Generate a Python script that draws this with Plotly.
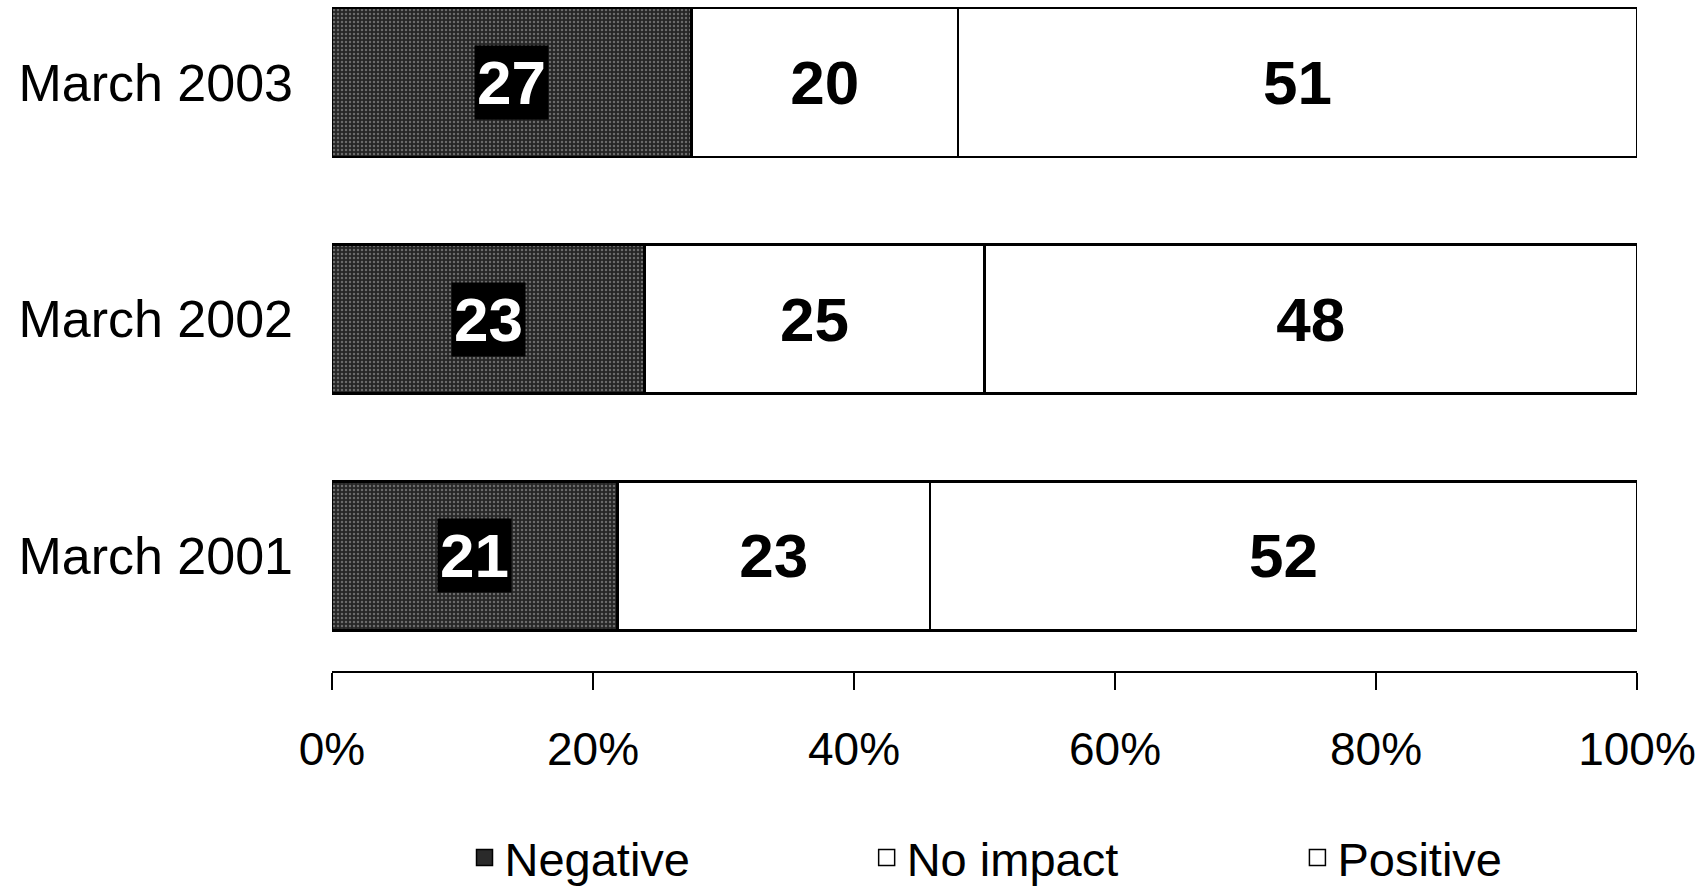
import plotly.graph_objects as go

categories = ["March 2001", "March 2002", "March 2003"]
negative = [21, 23, 27]
no_impact = [23, 25, 20]
positive = [52, 48, 51]
series_names = ["Negative", "No impact", "Positive"]
tick_vals = [0, 20, 40, 60, 80, 100]
tick_text = ["0%", "20%", "40%", "60%", "80%", "100%"]

FONT = "Liberation Sans, Arial, sans-serif"

fig = go.Figure()

neg_style = dict(color="#2c2c2c", line=dict(color="black", width=2.5),
                 pattern=dict(shape=".", fgcolor="#b0b0b0", bgcolor="#262626",
                              size=4, solidity=0.3))
white_style = dict(color="white", line=dict(color="black", width=2.5))

fig.add_trace(go.Bar(y=categories, x=negative, orientation="h", name="Negative",
                     marker=neg_style, showlegend=False, hoverinfo="x+y"))
fig.add_trace(go.Bar(y=categories, x=no_impact, orientation="h", name="No impact",
                     marker=white_style, text=no_impact, textposition="inside",
                     insidetextanchor="middle", constraintext="none",
                     textfont=dict(family=FONT, size=62, color="black", weight="bold"),
                     showlegend=False))
fig.add_trace(go.Bar(y=categories, x=positive, orientation="h", name="Positive",
                     marker=white_style, text=positive, textposition="inside",
                     insidetextanchor="middle", constraintext="none",
                     textfont=dict(family=FONT, size=62, color="black", weight="bold"),
                     showlegend=False))

# Negative labels: white on black box, centred in the normalised segment
for cat, n, ni, p in zip(categories, negative, no_impact, positive):
    total = n + ni + p
    fig.add_annotation(x=n / total * 100 / 2, y=cat, text=str(n), showarrow=False,
                       font=dict(family=FONT, size=62, color="white", weight="bold"),
                       bgcolor="black", borderpad=2)

# Legend entries (three separate legends to place them like the original)
legend_colors = ["#2a2a2a", "white", "white"]
legend_ids = ["legend", "legend2", "legend3"]
legend_x = [0.2726, 0.5086, 0.7614]
for name, col, lid in zip(series_names, legend_colors, legend_ids):
    fig.add_trace(go.Scatter(x=[None], y=[None], mode="markers", name=name,
                             marker=dict(symbol="square", size=16, color=col,
                                         line=dict(color="black", width=1.5)),
                             legend=lid, showlegend=True))

leg_common = dict(orientation="h", yanchor="middle", xanchor="left",
                  xref="container", yref="container", y=0.0316,
                  font=dict(family=FONT, size=47, color="black"),
                  bgcolor="rgba(0,0,0,0)", borderwidth=0)

fig.update_layout(
    width=1704, height=886,
    barmode="stack", barnorm="percent", bargap=0.37,
    plot_bgcolor="white", paper_bgcolor="white",
    margin=dict(l=332, r=67, t=0, b=215, pad=0),
    font=dict(family=FONT, color="black"),
    xaxis=dict(range=[0, 100], tickvals=tick_vals, ticktext=tick_text,
               showline=True, linecolor="black", linewidth=2,
               ticks="outside", ticklen=17, tickwidth=2, tickcolor="black",
               showgrid=False, zeroline=False, automargin=False,
               tickfont=dict(family=FONT, size=46, color="black"),
               ticklabelstandoff=20),
    yaxis=dict(range=[-0.486, 2.348], showline=False, ticks="", showgrid=False,
               zeroline=False, categoryorder="array", categoryarray=categories,
               automargin=False,
               tickfont=dict(family=FONT, size=52, color="black"),
               ticklabelstandoff=38),
    legend=dict(x=legend_x[0], **leg_common),
    legend2=dict(x=legend_x[1], **leg_common),
    legend3=dict(x=legend_x[2], **leg_common),
)

fig.write_html("out.html", config={"displayModeBar": False},
               post_script="document.body.style.margin='0px';document.body.style.overflow='hidden';")
